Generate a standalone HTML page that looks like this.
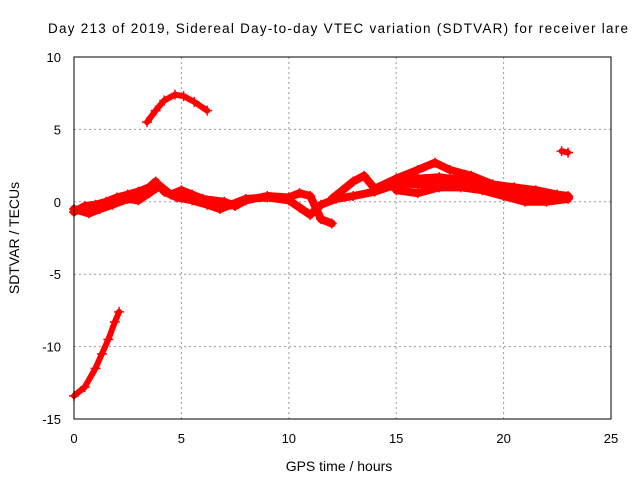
<!DOCTYPE html>
<html><head><meta charset="utf-8"><style>body{margin:0;background:#fff}svg{display:block;font-family:"Liberation Sans",sans-serif}</style></head>
<body>
<svg id="c" width="640" height="480">
<text x="338" y="33" font-size="13.5" text-anchor="middle" textLength="580">Day 213 of 2019, Sidereal Day-to-day VTEC variation (SDTVAR) for receiver lare</text>
<text x="339" y="471" font-size="14" text-anchor="middle">GPS time / hours</text>
<text transform="translate(19,238) rotate(-90)" font-size="14" text-anchor="middle">SDTVAR / TECUs</text>
<g id="grid"></g><g id="ticks"></g><g id="marks"></g>
<rect x="74" y="57" width="537" height="362" fill="none" stroke="#000"/>
</svg>
<script>
const xTicks=[0,5,10,15,20,25];
const yTicks=[-15,-10,-5,0,5,10];
const trackA=[[0,-13.4],[0.5,-12.8],[1,-11.5],[1.3,-10.5],[1.6,-9.5],[1.9,-8.3],[2.1,-7.6]];
const trackB=[[3.4,5.5],[3.8,6.3],[4.2,7],[4.7,7.4],[5.1,7.3],[5.6,6.9],[6.2,6.3]];
const trackC1=[[0,-0.7],[0.5,-0.3],[1,-0.2],[1.5,0],[2,0.3],[2.5,0.5],[3,0.7],[3.5,1],[3.8,1.4],[4.2,0.7],[4.8,0.3],[5.5,0.1],[6.2,-0.2],[6.8,-0.5],[7.3,-0.2],[8,0.2],[9,0.3],[10,0.1],[10.5,-0.4],[11,-0.9],[11.5,-0.2],[12.2,0.2],[13,0.4],[14,0.7],[15,1.2],[16,1.6],[17,1.7],[18,1.5],[19,1.1],[20,0.8],[21,0.6],[22,0.4],[23,0.3]];
const trackC2=[[0,-0.5],[0.7,-0.8],[1.2,-0.5],[1.8,-0.2],[2.5,0.2],[3,0.1],[3.5,0.6],[4,1.1],[4.5,0.5],[5,0.8],[5.5,0.5],[6,0.2],[7,0],[7.5,-0.3],[8,0.1],[9,0.4],[10,0.3],[10.5,0.6],[11,0.4],[11.5,-1.2],[12,-1.5]];
const trackC3=[[12,0.2],[12.5,0.8],[13,1.4],[13.5,1.8],[14,0.9],[15,1.6],[16,2.2],[16.8,2.7],[17.5,2.2],[18.5,1.8],[19.5,1.2],[20.5,1],[21.5,0.8],[22.5,0.5],[23,0.4]];
const trackC4=[[15,0.8],[16,0.6],[17,1.0],[18,1.0],[19,0.8],[20,0.4],[21,0.0],[22,0],[23,0.2]];
const trackC5=[[15,1.3],[16,1.2],[17,1.3],[18,1.3],[19,1.0],[20,0.7],[21,0.4],[22,0.2],[23,0.3]];
const trackD=[[22.7,3.5],[23,3.4]];
const tracks=[trackA,trackB,trackC1,trackC2,trackC3,trackC4,trackC5,trackD];
const NS='http://www.w3.org/2000/svg';
const X=v=>74+v*537/25, Y=v=>419-(v+15)*362/25;
function mk(t,a,p){const e=document.createElementNS(NS,t);for(const k in a)e.setAttribute(k,a[k]);p.appendChild(e);return e;}
const g=document.getElementById('grid'),tk=document.getElementById('ticks'),m=document.getElementById('marks');
xTicks.forEach(v=>{
 if(v>0&&v<25){const l=mk('line',{x1:X(v),x2:X(v),y1:57,y2:419,stroke:'#999','stroke-dasharray':'2,3'},g);
 
 }
 const t=mk('text',{x:X(v),y:443,'font-size':13,'text-anchor':'middle'},tk);t.textContent=v;
 
 
});
yTicks.forEach(v=>{
 if(v>-15&&v<10){const l=mk('line',{x1:74,x2:611,y1:Y(v),y2:Y(v),stroke:'#999','stroke-dasharray':'2,3'},g);
 
 }
 const t=mk('text',{x:61,y:Y(v)+5,'font-size':13,'text-anchor':'end'},tk);t.textContent=v;
 
 
});
tracks.forEach((tr,i)=>{
 const w=(i>=2&&i<=6)?8:6;
 const pl=mk('polyline',{points:tr.map(p=>X(p[0])+','+Y(p[1])).join(' '),fill:'none',stroke:'#f00','stroke-width':w,'stroke-linejoin':'round','stroke-linecap':'round'},m);
 
 
 tr.forEach(p=>{const c=mk('path',{d:`M${X(p[0])-5},${Y(p[1])}h10M${X(p[0])},${Y(p[1])-5}v10`,stroke:'#f00','stroke-width':1.5},m);
 
 });
});
</script>
</body></html>
